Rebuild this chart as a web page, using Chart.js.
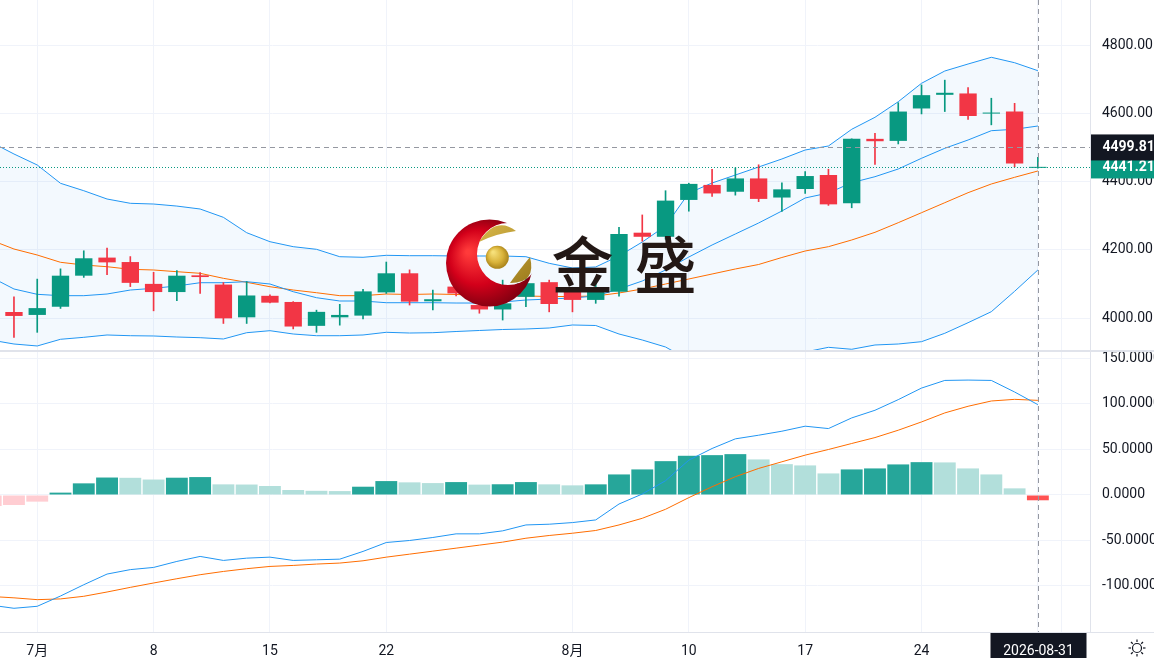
<!DOCTYPE html>
<html><head><meta charset="utf-8">
<script src="https://cdn.jsdelivr.net/npm/chart.js@4.4.1/dist/chart.umd.min.js"></script>
<style>
html,body{margin:0;padding:0;background:#fff;}
#wrap{position:relative;width:1154px;height:658px;overflow:hidden;background:#fff;}
canvas{position:absolute;left:0;}
.ln{position:absolute;background:#e0e3eb;}
</style></head><body>
<div id="wrap">
<canvas id="main" width="1154" height="350" style="top:0"></canvas>
<canvas id="macd" width="1154" height="306" style="top:352px"></canvas>
<div class="ln" style="left:0;top:350px;width:1154px;height:2px"></div>
<div class="ln" style="left:0;top:632px;width:1154px;height:1px"></div>
<div class="ln" style="left:1090px;top:0;width:1px;height:632px"></div>
</div>
<script>
// ---------- data ----------
const dates = ['2026-06-29','2026-06-30','2026-07-01','2026-07-02','2026-07-03','2026-07-06','2026-07-07','2026-07-08','2026-07-09','2026-07-10',
 '2026-07-13','2026-07-14','2026-07-15','2026-07-16','2026-07-17','2026-07-20','2026-07-21','2026-07-22','2026-07-23','2026-07-24',
 '2026-07-27','2026-07-28','2026-07-29','2026-07-30','2026-07-31','2026-08-03','2026-08-04','2026-08-05','2026-08-06','2026-08-07',
 '2026-08-10','2026-08-11','2026-08-12','2026-08-13','2026-08-14','2026-08-17','2026-08-18','2026-08-19','2026-08-20','2026-08-21',
 '2026-08-24','2026-08-25','2026-08-26','2026-08-27','2026-08-28','2026-08-31'];
const open  = [4060,4017.6,4009,4033,4124,4177,4164,4100,4076,4125,4098,4002,4065,4047,3977,4002,4007,4075,4131,4049,4092,4038,4025,4062,4105,4079,4053,4077,4250,4238,4346,4390,4370,4409,4353,4378,4419,4336,4525,4519,4614,4654,4658,4599,4605,4440];
const high  = [4080,4062,4114,4144,4197,4205,4180,4134,4139,4133,4104,4107,4068,4048,4023,4040,4084,4164,4141,4082,4100,4045,4111,4116,4111,4084,4106,4266,4302,4373,4395,4436,4440,4449,4396,4429,4436,4525,4541,4631,4683,4697,4675,4644,4629,4471];
const low   = [3990,3943,3958,4028,4119,4127,4092,4021,4051,4072,3984,3984,4044,3968,3958,3979,3997,4072,4038,4024,4065,4014,3994,4033,4018,4018,4043,4064,4225,4231,4313,4356,4360,4341,4312,4365,4330,4323,4450,4510,4598,4605,4582,4566,4443,4439];
const close = [4017,4006,4029,4124,4175,4163,4103,4076,4124,4120,3999,4066,4045,3975,4018,4009,4078,4131,4048,4055,4072,4025,4043,4102,4041,4053,4079,4246,4238,4344,4393,4365,4409,4349,4377,4416,4333,4525,4518,4605,4653,4660,4592,4602,4453,4441.21];
const bbUpper = [4515.8,4480.6,4448.4,4394.7,4373,4348.7,4336.1,4334,4328,4319.4,4295,4250,4223.6,4209,4201.3,4179.6,4177.9,4183.7,4182.6,4182.6,4181.7,4181.7,4181.7,4179.6,4160.3,4146.5,4149.5,4181.7,4222.7,4269.6,4366.3,4395.6,4419,4442.5,4466,4492.3,4504,4553,4588.1,4633.8,4687.8,4723.8,4744.3,4764,4748.1,4724.7];
const bbLower = [3935.5,3923.8,3918,3937.6,3943.4,3950.2,3948.1,3947.3,3944.3,3942.3,3938.5,3956.9,3962.8,3953.1,3948.1,3948.1,3950.2,3958.1,3956,3956.9,3960.4,3963.4,3966.3,3967.8,3970.7,3979.5,3978,3953.1,3935.5,3915,3877,3862.3,3868.1,3871,3888.6,3900.4,3914.1,3908.3,3920.9,3923.8,3930.6,3955.2,3986.2,4018.5,4078.2,4140.7];
const bbBasis = [4228.6,4202.2,4184.6,4163.2,4155.3,4150.3,4142.7,4140.7,4135.7,4131,4116.3,4104.6,4091.7,4082,4074.1,4065.4,4065.4,4070.3,4068.9,4070.3,4068.9,4067.4,4066,4064.5,4063,4063,4064.5,4073.3,4085,4099.6,4114.3,4128.9,4143.6,4156.8,4177.3,4196.3,4209,4228.6,4251.1,4279.3,4308.6,4337.9,4367.2,4392.7,4412.3,4430.8];
const maLine  = [4120.2,4085,4069.4,4065.4,4065.4,4070.3,4082,4087,4093.8,4103.4,4103.4,4106.4,4099.6,4077.1,4059.5,4049.8,4049.8,4044.8,4044.8,4044.8,4043.9,4043.9,4046.9,4052.7,4055.6,4058.6,4064.5,4085,4108.4,4140.7,4178.7,4213.9,4246.2,4278.4,4313.6,4351.7,4366.3,4396.5,4414.1,4436.6,4468,4497.3,4521.6,4548.9,4553,4562.6];
const macdDif  = [-121,-124.5,-122.3,-111,-98.6,-86.9,-82,-79.6,-73,-67.5,-71.9,-69.4,-68.3,-71.9,-71.2,-70.5,-62,-52.2,-50,-46.7,-42.7,-42.7,-39.4,-32.9,-32.1,-30.3,-27.4,-9.9,1.1,15.7,38.3,51.1,61.7,65.7,70.1,75.6,73,84.7,93.1,104.8,117.5,125.9,126.3,125.9,113.2,99.3];
const macdDea  = [-111.5,-113,-115,-114.2,-111.3,-106.6,-101.5,-96.7,-92,-87.6,-84,-81,-78.5,-77.4,-75.9,-74.8,-72.3,-68.3,-65,-61.7,-58.4,-55.1,-51.8,-47.5,-44.5,-42,-39,-32.9,-25.6,-15.7,-2.9,9.1,20.1,29.2,36.5,43.8,50,56.6,63.1,71.2,80.3,90.2,97.5,103.3,105.1,104];
const macdHist = [-12,-11,-7.3,2.6,12.8,19.2,18.9,17,19,19.7,11.7,11.5,9.9,5.5,4.6,4.3,9.1,15.3,13.9,13.1,14.2,11.4,11.8,14.2,11.7,10.6,11.7,22.6,28.1,37.2,43.1,43.8,44.9,39.1,33.9,32.5,23.7,28.1,29.2,33.6,36.1,35.8,29.2,22.6,7.3,-5.8];
const tickDates  = ['2026-07-01','2026-07-08','2026-07-15','2026-07-22','2026-08-03','2026-08-10','2026-08-17','2026-08-24','2026-08-31','2026-09-01'];
const tickLabels = ['7月','8','15','22','8月','10','17','24','31','9月'];
const priceTicks = [4000,4200,4400,4600,4800];
const macdTicks  = [-100,-50,0,50,100,150];
const crossPrice = 4499.81;

// ---------- styles ----------
const UP='#089981', DOWN='#f23645', TXT='#131722', GRID='#f0f3fa';
const FONT='Roboto, "Noto Sans CJK SC", sans-serif';
Chart.defaults.font.family = FONT;
Chart.defaults.font.size = 14;
Chart.defaults.color = TXT;

const lastIdx = dates.length - 1;
const lastPrice = close[lastIdx];
const tickIdx = tickDates.map(d => { const i = dates.indexOf(d); return i < 0 ? dates.length : i; });
const X_MIN = 0.4, X_MAX = 47.24;
const candleColors = close.map((c,i) => c >= open[i] ? UP : DOWN);
const histColors = macdHist.map((v,i) => {
  const p = i > 0 ? macdHist[i-1] : v - 1;
  if (v >= 0) return v >= p ? '#26a69a' : '#b2dfdb';
  return v < p ? '#ff5252' : '#ffcdd2';
});

function xScale(showTicks, h){
  return {
    type:'linear', min:X_MIN, max:X_MAX, offset:false, bounds:'ticks',
    afterBuildTicks: s => { s.ticks = tickIdx.map(v => ({value:v})); },
    ticks:{ display:showTicks, autoSkip:false, maxRotation:0, padding:11, color:TXT,
      callback: v => { const k = tickIdx.indexOf(v); return k < 0 ? '' : tickLabels[k]; } },
    grid:{ color:GRID, drawTicks:false, offset:false },
    border:{ display:false },
    afterFit: s => { s.height = h; s.paddingLeft = 0; s.paddingRight = 0; }
  };
}
function yScale(min, max, ticks, dec){
  return {
    position:'right', min, max,
    afterBuildTicks: s => { s.ticks = ticks.map(v => ({value:v})); },
    ticks:{ padding:12, color:TXT, callback: v => Number(v).toFixed(dec) },
    grid:{ color:GRID, drawTicks:false },
    border:{ display:false },
    afterFit: s => { s.width = 64; s.paddingTop = 0; s.paddingBottom = 0; }
  };
}
const pts = arr => arr.map((v,i) => ({x:i, y:v}));

function drawLogo(ctx){
  ctx.save();
  const cx=489.5, cy=263, r=43.5;
  ctx.beginPath(); ctx.arc(cx,cy,r,0,Math.PI*2); ctx.clip();
  const g = ctx.createRadialGradient(468,252,2,485,262,48);
  g.addColorStop(0,'#ff3a3a'); g.addColorStop(0.55,'#d3001a'); g.addColorStop(1,'#7d0010');
  ctx.beginPath();
  ctx.rect(cx-r-2, cy-r-2, 2*r+4, 2*r+4);
  ctx.arc(508,254,31,0,Math.PI*2,true);
  ctx.fillStyle = g; ctx.fill('evenodd');
  ctx.restore();
  ctx.save();
  const gb = ctx.createRadialGradient(493,252,1,497,257,12);
  gb.addColorStop(0,'#f6e07a'); gb.addColorStop(0.6,'#d9b33a'); gb.addColorStop(1,'#a8821a');
  ctx.beginPath(); ctx.arc(497.3,257.3,11.5,0,Math.PI*2); ctx.fillStyle=gb; ctx.fill();
  const gl = ctx.createLinearGradient(478,225,530,285);
  gl.addColorStop(0,'#d8b84a'); gl.addColorStop(1,'#9c7b1c');
  ctx.fillStyle = gl;
  ctx.beginPath(); ctx.moveTo(479,242);
  ctx.quadraticCurveTo(495.9,215.5,516,231);
  ctx.quadraticCurveTo(495.9,233.5,479,242); ctx.fill();
  ctx.beginPath(); ctx.moveTo(510,283);
  ctx.quadraticCurveTo(536.6,283.4,530,257);
  ctx.quadraticCurveTo(516.6,273.4,510,283); ctx.fill();
  ctx.fillStyle='#231815';
  ctx.font='500 62px "Noto Sans CJK SC", sans-serif';
  ctx.textAlign='center'; ctx.textBaseline='middle';
  ctx.fillText('金',582.5,265);
  ctx.fillText('盛',665.5,265);
  ctx.restore();
}

function axisBox(ctx, chart, yv, text, bg, h){
  const yS = chart.scales.y;
  ctx.fillStyle = bg;
  ctx.fillRect(yS.left, yv - h/2, chart.width - yS.left, h);
  ctx.fillStyle = '#ffffff';
  ctx.font = 'bold 14px ' + FONT;
  ctx.textAlign='left'; ctx.textBaseline='middle';
  ctx.fillText(text, yS.left + 12.5, yv + 0.5);
}

const mainOverlay = {
  id:'mainOverlay',
  afterDraw(chart){
    const {ctx, chartArea:a, scales:{x,y}} = chart;
    ctx.save();
    const yl = Math.round(y.getPixelForValue(lastPrice)) + 0.5;
    ctx.strokeStyle = UP; ctx.lineWidth = 1; ctx.setLineDash([1,2]);
    ctx.beginPath(); ctx.moveTo(a.left,yl); ctx.lineTo(a.right,yl); ctx.stroke();
    const xc = Math.round(x.getPixelForValue(lastIdx)) + 0.5;
    const yc = Math.round(y.getPixelForValue(crossPrice)) + 0.5;
    ctx.strokeStyle = '#9598a1'; ctx.setLineDash([5,4]);
    ctx.beginPath(); ctx.moveTo(xc,a.top); ctx.lineTo(xc,a.bottom); ctx.stroke();
    ctx.beginPath(); ctx.moveTo(a.left,yc); ctx.lineTo(a.right,yc); ctx.stroke();
    ctx.setLineDash([]);
    drawLogo(ctx);
    axisBox(ctx, chart, y.getPixelForValue(lastPrice), lastPrice.toFixed(2), UP, 22);
    axisBox(ctx, chart, y.getPixelForValue(crossPrice), crossPrice.toFixed(2), TXT, 26);
    ctx.restore();
  }
};

const macdOverlay = {
  id:'macdOverlay',
  afterDraw(chart){
    const {ctx, chartArea:a, scales:{x}} = chart;
    ctx.save();
    const xc = Math.round(x.getPixelForValue(lastIdx)) + 0.5;
    ctx.strokeStyle = '#9598a1'; ctx.lineWidth = 1; ctx.setLineDash([5,4]);
    ctx.beginPath(); ctx.moveTo(xc,a.top); ctx.lineTo(xc,a.bottom); ctx.stroke();
    ctx.setLineDash([]);
    ctx.fillStyle = TXT;
    ctx.fillRect(xc - 48, a.bottom + 1, 96, 30);
    ctx.fillStyle = '#ffffff';
    ctx.font = '14px ' + FONT; ctx.textAlign='center'; ctx.textBaseline='middle';
    ctx.fillText(dates[lastIdx], xc, a.bottom + 19.5);
    const gx = 1137, gy = a.bottom + 16;
    ctx.strokeStyle = TXT; ctx.lineWidth = 1.2;
    ctx.beginPath(); ctx.arc(gx,gy,4.5,0,Math.PI*2); ctx.stroke();
    for (let k=0;k<8;k++){
      const t = k*Math.PI/4;
      ctx.beginPath();
      ctx.moveTo(gx+Math.cos(t)*6, gy+Math.sin(t)*6);
      ctx.lineTo(gx+Math.cos(t)*8.5, gy+Math.sin(t)*8.5);
      ctx.stroke();
    }
    ctx.restore();
  }
};

const common = {
  responsive:false, animation:false, events:[],
  layout:{ padding:0 },
  plugins:{ legend:{display:false}, tooltip:{enabled:false}, filler:{drawTime:'beforeDatasetsDraw'} }
};

new Chart(document.getElementById('main'), {
  type:'bar',
  data:{ datasets:[
    { type:'bar', data: close.map((c,i)=>({x:i, y:[open[i], c]})), backgroundColor:candleColors,
      grouped:false, barPercentage:0.745, categoryPercentage:1, minBarLength:1, borderWidth:0, order:0 },
    { type:'bar', data: high.map((h,i)=>({x:i, y:[low[i], h]})), backgroundColor:candleColors,
      grouped:false, barThickness:1, borderWidth:0, order:1 },
    { type:'line', data: pts(maLine), borderColor:'#2196f3', borderWidth:1, pointRadius:0, tension:0, order:2 },
    { type:'line', data: pts(bbBasis), borderColor:'#ff6d00', borderWidth:1, pointRadius:0, tension:0, order:3 },
    { type:'line', data: pts(bbUpper), borderColor:'#2196f3', borderWidth:1, pointRadius:0, tension:0,
      fill:'+1', backgroundColor:'rgba(33,150,243,0.055)', order:4 },
    { type:'line', data: pts(bbLower), borderColor:'#2196f3', borderWidth:1, pointRadius:0, tension:0, order:5 }
  ]},
  options: Object.assign({}, common, {
    scales:{ x: xScale(false, 0), y: yScale(3906.23, 4931.87, priceTicks, 2) }
  }),
  plugins:[mainOverlay]
});

new Chart(document.getElementById('macd'), {
  type:'bar',
  data:{ datasets:[
    { type:'line', data: pts(macdDif), borderColor:'#2196f3', borderWidth:1, pointRadius:0, tension:0, order:0 },
    { type:'line', data: pts(macdDea), borderColor:'#ff6d00', borderWidth:1, pointRadius:0, tension:0, order:1 },
    { type:'bar', data: pts(macdHist), backgroundColor:histColors, grouped:false,
      barPercentage:0.94, categoryPercentage:1, borderWidth:0, order:2 }
  ]},
  options: Object.assign({}, common, {
    scales:{ x: xScale(true, 26), y: yScale(-150.55, 157.14, macdTicks, 4) }
  }),
  plugins:[macdOverlay]
});
</script>
</body></html>
